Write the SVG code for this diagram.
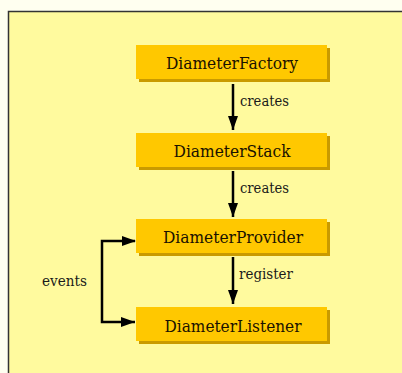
<svg xmlns="http://www.w3.org/2000/svg" width="402" height="373" viewBox="0 0 402 373">
<defs>
<style>
.node rect.box{fill:#FFC800}
.node rect.sh{fill:#C99A00}
.node text{font-family:'DejaVu Serif','Liberation Serif',serif;font-size:17px;fill:#1a1200;text-anchor:middle}
.lbl{font-family:'DejaVu Serif','Liberation Serif',serif;font-size:15.5px;fill:#1a1a1a}
.edge{stroke:#000;stroke-width:2.5;fill:none}
</style>
<marker id="ah" viewBox="0 0 14 10" refX="14" refY="5" markerWidth="14" markerHeight="10" markerUnits="userSpaceOnUse" orient="auto">
<path d="M0,0 L14,5 L0,10 Z" fill="#000"/>
</marker>
</defs>
<rect width="402" height="373" fill="#FFFFF0"/>
<rect x="8.5" y="11.5" width="400" height="370" fill="#FFFA9E" stroke="#333" stroke-width="1.5"/>
<g id="DiameterFactory" class="node">
<rect class="sh" x="139" y="48" width="191" height="34"/>
<rect class="box" x="136" y="45" width="191" height="34"/>
<text x="232" y="69" textLength="132" lengthAdjust="spacingAndGlyphs">DiameterFactory</text>
</g>
<g id="DiameterStack" class="node">
<rect class="sh" x="139" y="136" width="191" height="34"/>
<rect class="box" x="136" y="133" width="191" height="34"/>
<text x="232" y="157" textLength="117" lengthAdjust="spacingAndGlyphs">DiameterStack</text>
</g>
<g id="DiameterProvider" class="node">
<rect class="sh" x="139" y="222" width="191" height="34"/>
<rect class="box" x="136" y="219" width="191" height="34"/>
<text x="233" y="243" textLength="140" lengthAdjust="spacingAndGlyphs">DiameterProvider</text>
</g>
<g id="DiameterListener" class="node">
<rect class="sh" x="139" y="310" width="191" height="34"/>
<rect class="box" x="136" y="307" width="191" height="34"/>
<text x="233" y="332" textLength="137" lengthAdjust="spacingAndGlyphs">DiameterListener</text>
</g>
<g id="connectors">
<path class="edge" d="M233,84 V130" marker-end="url(#ah)"/>
<text class="lbl" x="240" y="106" textLength="49" lengthAdjust="spacingAndGlyphs">creates</text>
<path class="edge" d="M233,171 V217" marker-end="url(#ah)"/>
<text class="lbl" x="240" y="193" textLength="49" lengthAdjust="spacingAndGlyphs">creates</text>
<path class="edge" d="M233,257 V304" marker-end="url(#ah)"/>
<text class="lbl" x="239" y="279" textLength="54" lengthAdjust="spacingAndGlyphs">register</text>
<path class="edge" d="M135,241 H102 V322 H135" marker-end="url(#ah)"/>
<path d="M136,241 L122,236 L122,246 Z" fill="#000"/>
<text class="lbl" x="42" y="286" textLength="45" lengthAdjust="spacingAndGlyphs">events</text>
</g>
</svg>
